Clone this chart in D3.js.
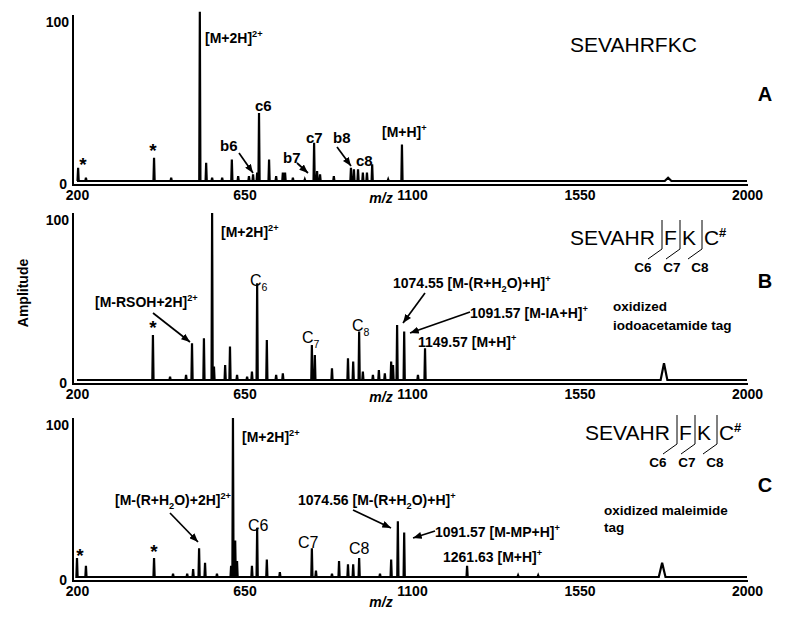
<!DOCTYPE html>
<html>
<head>
<meta charset="utf-8">
<script src="https://cdn.jsdelivr.net/npm/d3@7"></script>
<style>
  body { margin: 0; background: #fff; }
  text { font-family: "Liberation Sans", Arial, sans-serif; fill: #000; }
</style>
</head>
<body>
<div id="chart"></div>
<script>
// m/z tick labels shared by the three spectra
const mzTicks = [200, 650, 1100, 1550, 2000];
const ampTicks = [0, 100];

// [m/z, relative amplitude]
const peaksA = [[203, 8], [224, 2], [407, 14], [453, 2], [530, 102], [547, 11], [563, 2], [590, 2],
  [616, 13], [633, 3], [662, 3], [673, 4], [684, 5], [689, 41], [716, 13], [735, 3], [753, 5],
  [759, 5], [780, 2], [812, 1], [837, 23], [845, 6], [853, 4], [890, 3], [936, 8], [944, 7],
  [955, 7], [968, 5], [979, 5], [993, 10], [1036, 1], [1073, 22]];
const broadA = [[1788, 2]];

const peaksB = [[404, 27], [450, 2], [493, 3], [509, 22], [541, 25], [563, 100], [568, 8],
  [598, 9], [611, 20], [630, 3], [657, 2], [670, 5], [684, 58], [710, 24], [735, 3], [753, 4],
  [831, 21], [839, 15], [885, 7], [928, 13], [942, 11], [958, 29], [968, 5], [995, 3],
  [1011, 6], [1027, 4], [1044, 11], [1049, 9], [1060, 33], [1079, 29], [1116, 3], [1135, 19]];
const broadB = [[1777, 10]];

const peaksC = [[200, 12], [224, 7], [407, 12], [458, 2], [496, 2], [512, 5], [528, 18],
  [544, 9], [576, 2], [614, 7], [619, 100], [625, 23], [630, 10], [670, 7], [684, 31], [710, 11],
  [745, 3], [831, 18], [842, 4], [885, 2], [904, 10], [928, 8], [942, 8], [958, 12], [1014, 2],
  [1044, 11], [1062, 35], [1079, 28], [1248, 7], [1385, 1], [1439, 1]];
const broadC = [[1772, 9]];

const width = 800, height = 620;
const svg = d3.select("#chart").append("svg")
  .attr("width", width).attr("height", height);

svg.append("defs").append("marker")
  .attr("id", "arrow").attr("viewBox", "0 0 10 8")
  .attr("refX", 10).attr("refY", 4)
  .attr("markerWidth", 9).attr("markerHeight", 7)
  .attr("markerUnits", "userSpaceOnUse").attr("orient", "auto")
  .append("path").attr("d", "M0,0L10,4L0,8Z").attr("fill", "#000");

const x = d3.scaleLinear().domain([200, 2000]).range([77, 747]);

// text with super/subscripts: parts = [[string, "n" | "sup" | "sub"], ...]
function rich(g, px, py, parts, size, weight, anchor) {
  const t = g.append("text").attr("x", px).attr("y", py)
    .attr("font-size", size).attr("font-weight", weight || "bold")
    .attr("text-anchor", anchor || "start");
  let shift = 0;
  parts.forEach(([s, k]) => {
    const target = k === "sup" ? -size * 0.42 : k === "sub" ? size * 0.3 : 0;
    const ts = t.append("tspan").text(s).attr("dy", target - shift);
    if (k !== "n") ts.attr("font-size", size * 0.66);
    shift = target;
  });
  return t;
}

function arrow(g, x1, y1, x2, y2) {
  g.append("line").attr("x1", x1).attr("y1", y1).attr("x2", x2).attr("y2", y2)
    .attr("stroke", "#000").attr("stroke-width", 1.7).attr("marker-end", "url(#arrow)");
}

function star(g, px, cy) {
  g.append("text").attr("x", px).attr("y", cy + 11).attr("text-anchor", "middle")
    .attr("font-size", 19).attr("font-weight", "bold").text("*");
}

function sequence(g, x0, yb) {
  g.append("text").attr("x", x0).attr("y", yb).attr("font-size", 21).text("SEVAHR");
  const res = ["F", "K", "C"], cut = [92, 110, 132], lab = [73, 102, 130];
  res.forEach((r, i) => {
    g.append("text").attr("x", x0 + cut[i] + 2).attr("y", yb).attr("font-size", 21).text(r);
    g.append("path")
      .attr("d", `M${x0 + cut[i]},${yb - 25}L${x0 + cut[i]},${yb + 4}L${x0 + cut[i] - 14},${yb + 14}`)
      .attr("fill", "none").attr("stroke", "#000").attr("stroke-width", 1);
    g.append("text").attr("x", x0 + lab[i]).attr("y", yb + 27).attr("text-anchor", "middle")
      .attr("font-size", 13.5).attr("font-weight", "bold").text("C" + (6 + i));
  });
  g.append("text").attr("x", x0 + 149).attr("y", yb - 8).attr("font-size", 13)
    .attr("font-weight", "bold").text("#");
}

function spectrum(cfg) {
  const g = svg.append("g");
  const y = d3.scaleLinear().domain([0, 100]).range([cfg.base, cfg.top]);

  // stick spectrum: narrow spikes plus a few broad bumps
  const pts = [[200, 0]];
  const all = cfg.peaks.map(p => [p[0], p[1], 1.6])
    .concat(cfg.broad.map(p => [p[0], p[1], 9]))
    .sort((a, b) => a[0] - b[0]);
  all.forEach(([m, v, w]) => { pts.push([m - w, 0], [m, v], [m + w, 0]); });
  pts.push([2000, 0]);
  const line = d3.line().x(d => x(d[0])).y(d => y(d[1]));
  g.append("path").attr("d", line(pts)).attr("fill", "none")
    .attr("stroke", "#000").attr("stroke-width", 2.2).attr("stroke-linejoin", "miter");

  // axes: double bottom rule and left axis
  g.append("line").attr("x1", 73).attr("x2", x(2000) + 1)
    .attr("y1", y(0) + 4).attr("y2", y(0) + 4).attr("stroke", "#000").attr("stroke-width", 2);
  g.append("line").attr("x1", 73).attr("x2", 73)
    .attr("y1", y(0) + 5).attr("y2", y(100)).attr("stroke", "#000").attr("stroke-width", 2);

  const xa = g.append("g").attr("transform", `translate(0,${y(0) + 5})`)
    .call(d3.axisBottom(x).tickValues(mzTicks).tickFormat(d3.format("d")).tickSize(0).tickPadding(4));
  xa.select(".domain").remove();
  xa.selectAll("text").attr("font-size", 14).attr("font-weight", "bold")
    .attr("font-family", "Liberation Sans, Arial, sans-serif").attr("fill", "#000");

  const ya = g.append("g").attr("transform", "translate(69,0)")
    .call(d3.axisLeft(y).tickValues(ampTicks).tickSize(0).tickPadding(0));
  ya.select(".domain").remove();
  ya.selectAll("text").attr("font-size", 14).attr("font-weight", "bold")
    .attr("font-family", "Liberation Sans, Arial, sans-serif").attr("fill", "#000")
    .attr("dy", d => d === 0 ? "0.45em" : "0.85em");
  ya.selectAll(".tick").filter(d => d === 0).attr("transform", `translate(-2,${y(0) + 2})`);

  g.append("text").attr("x", 381).attr("y", cfg.mzY).attr("text-anchor", "middle")
    .attr("font-size", 14).attr("font-weight", "bold").attr("font-style", "italic").text("m/z");

  g.append("text").attr("x", 765).attr("y", cfg.letterY).attr("text-anchor", "middle")
    .attr("font-family", "Liberation Serif, Times New Roman, serif")
    .attr("font-size", 20).attr("font-weight", "bold").text(cfg.id);
  return g;
}

// Panel A
const gA = spectrum({ id: "A", peaks: peaksA, broad: broadA, base: 181, top: 15, mzY: 203, letterY: 101 });
rich(gA, 205, 43, [["[M+2H]", "n"], ["2+", "sup"]], 14);
rich(gA, 255, 111, [["c6", "n"]], 15);
rich(gA, 220, 151, [["b6", "n"]], 15);
arrow(gA, 239, 153, 253, 173);
rich(gA, 283, 163, [["b7", "n"]], 15);
arrow(gA, 297, 163, 308, 173);
rich(gA, 306, 143, [["c7", "n"]], 15);
rich(gA, 333, 143, [["b8", "n"]], 15);
arrow(gA, 337, 147, 351, 166);
rich(gA, 356, 166, [["c8", "n"]], 15);
rich(gA, 382, 137, [["[M+H]", "n"], ["+", "sup"]], 14);
star(gA, 83, 160);
star(gA, 153, 146);
gA.append("text").attr("x", 570).attr("y", 52).attr("font-size", 21).text("SEVAHRFKC");

// Panel B
const gB = spectrum({ id: "B", peaks: peaksB, broad: broadB, base: 380, top: 213, mzY: 402, letterY: 288 });
rich(gB, 221, 237, [["[M+2H]", "n"], ["2+", "sup"]], 14);
rich(gB, 250, 286, [["C", "n"], ["6", "sub"]], 16, "normal");
rich(gB, 302, 343, [["C", "n"], ["7", "sub"]], 16, "normal");
rich(gB, 352, 331, [["C", "n"], ["8", "sub"]], 16, "normal");
rich(gB, 95, 307, [["[M-RSOH+2H]", "n"], ["2+", "sup"]], 14);
arrow(gB, 153, 313, 190, 342);
star(gB, 153, 323);
rich(gB, 393, 288, [["1074.55 [M-(R+H", "n"], ["2", "sub"], ["O)+H]", "n"], ["+", "sup"]], 14);
arrow(gB, 425, 293, 403, 323);
rich(gB, 470, 318, [["1091.57 [M-IA+H]", "n"], ["+", "sup"]], 14);
arrow(gB, 470, 312, 410, 333);
rich(gB, 418, 347, [["1149.57 [M+H]", "n"], ["+", "sup"]], 14);
rich(gB, 613, 311, [["oxidized", "n"]], 13.5);
rich(gB, 613, 330, [["iodoacetamide tag", "n"]], 13.5);
sequence(gB, 570, 245);

// Amplitude title
svg.append("text").attr("transform", "translate(28,293) rotate(-90)")
  .attr("text-anchor", "middle").attr("font-size", 14).attr("font-weight", "bold").text("Amplitude");

// Panel C
const gC = spectrum({ id: "C", peaks: peaksC, broad: broadC, base: 577, top: 418, mzY: 607, letterY: 492 });
rich(gC, 242, 442, [["[M+2H]", "n"], ["2+", "sup"]], 14);
rich(gC, 115, 505, [["[M-(R+H", "n"], ["2", "sub"], ["O)+2H]", "n"], ["2+", "sup"]], 14);
arrow(gC, 170, 513, 198, 542);
star(gC, 80, 551);
star(gC, 154, 547);
rich(gC, 248, 531, [["C6", "n"]], 16, "normal");
rich(gC, 298, 548, [["C7", "n"]], 16, "normal");
rich(gC, 349, 554, [["C8", "n"]], 16, "normal");
rich(gC, 298, 505, [["1074.56 [M-(R+H", "n"], ["2", "sub"], ["O)+H]", "n"], ["+", "sup"]], 14);
arrow(gC, 353, 510, 391, 528);
rich(gC, 435, 537, [["1091.57 [M-MP+H]", "n"], ["+", "sup"]], 14);
arrow(gC, 435, 531, 413, 538);
rich(gC, 443, 562, [["1261.63 [M+H]", "n"], ["+", "sup"]], 14);
rich(gC, 604, 515, [["oxidized maleimide", "n"]], 13.5);
rich(gC, 604, 532, [["tag", "n"]], 13.5);
sequence(gC, 585, 440);
</script>
</body>
</html>
